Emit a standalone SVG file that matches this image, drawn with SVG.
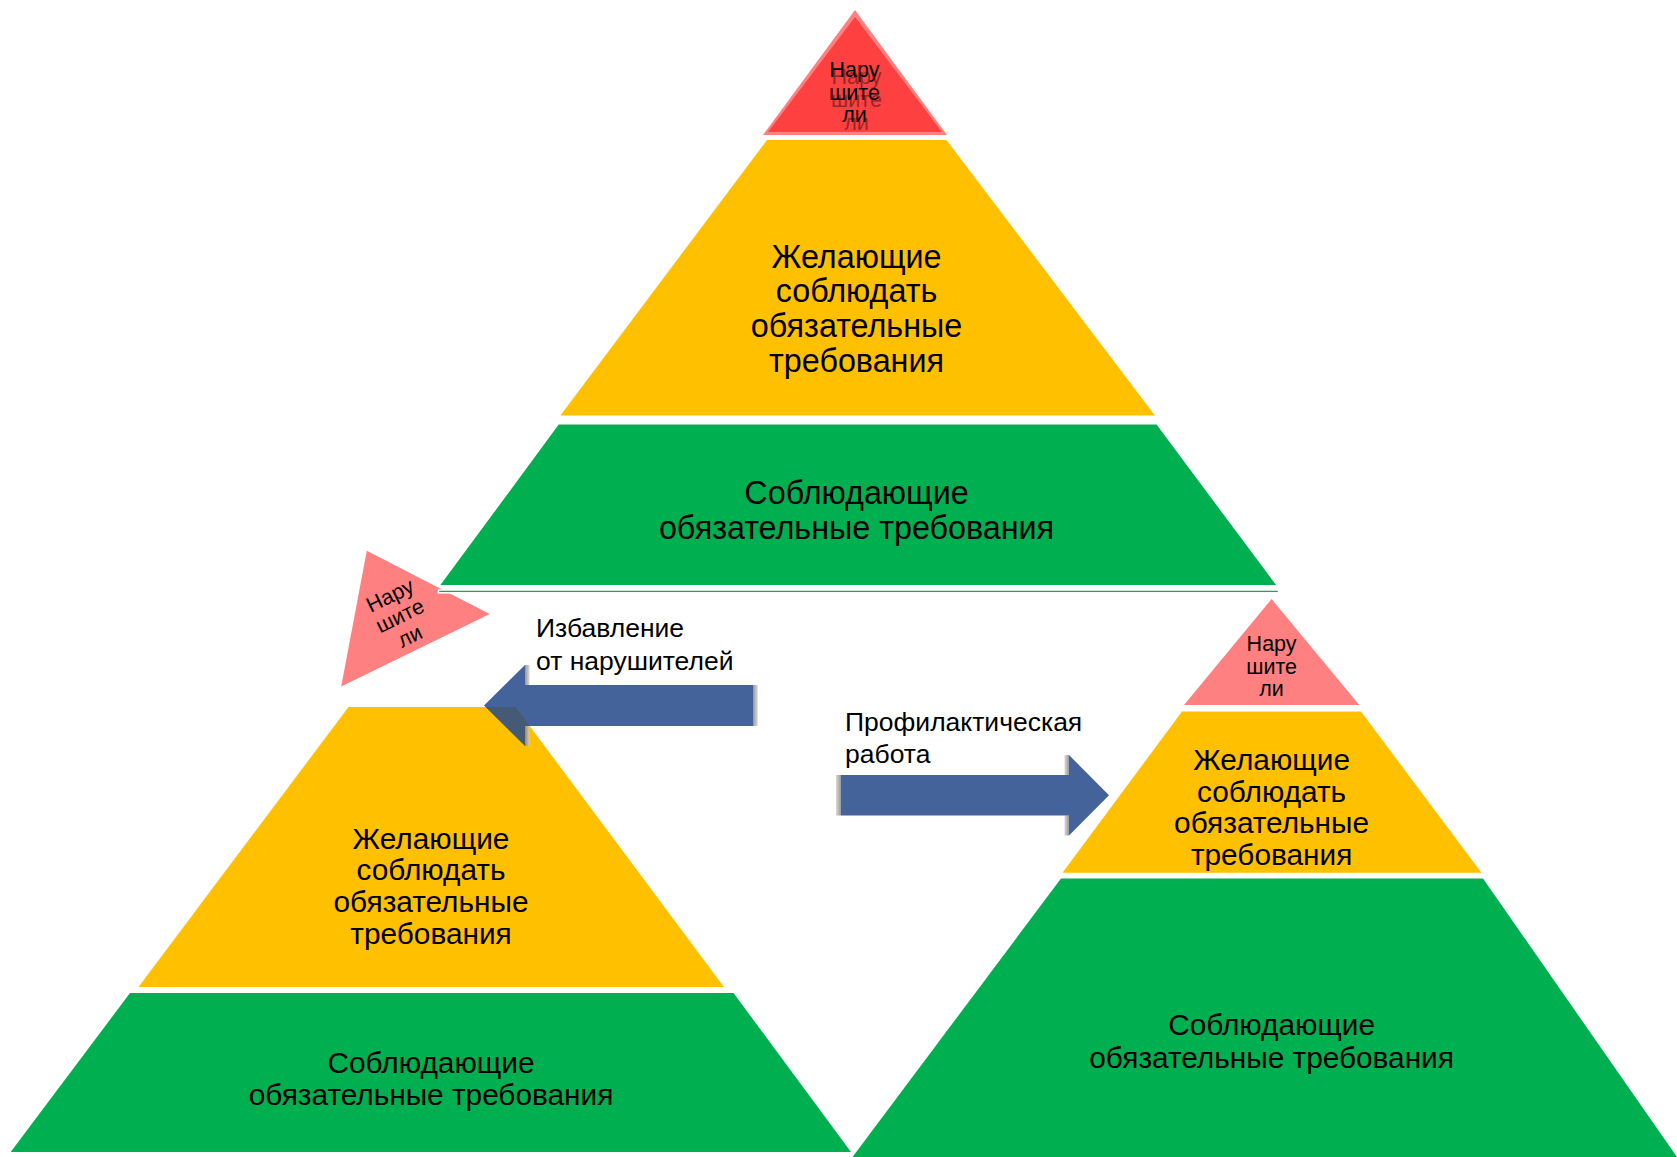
<svg xmlns="http://www.w3.org/2000/svg" width="1677" height="1157" viewBox="0 0 1677 1157">
<defs>
<style>
text{font-family:"Liberation Sans",Arial,sans-serif;fill:#000;text-anchor:middle}
.big{font-size:32.3px}
.mid{font-size:29.8px}
.sm{font-size:21.5px}
.lbl{font-size:26.5px;text-anchor:start}
.yel{fill:#FFC000}
.grn{fill:#00B050}
.pnk{fill:#FF8080}
.red{fill:#FF4040}
.arr{fill:#23488A;opacity:0.85}
.bev{opacity:0.8}
.ghost{fill:#000;opacity:0.4}
</style>
<linearGradient id="bevR" x1="0" x2="1" y1="0" y2="0"><stop offset="0" stop-color="#7f7f7f"/><stop offset="1" stop-color="#d0d0d0"/></linearGradient>
<linearGradient id="bevL" x1="1" x2="0" y1="0" y2="0"><stop offset="0" stop-color="#7f7f7f"/><stop offset="1" stop-color="#d0d0d0"/></linearGradient>
</defs>
<rect width="1677" height="1157" fill="#fff"/>

<g id="left-violators">
<polygon class="pnk" points="366.8,550.8 489.8,613.9 341.2,686.6"/>
<g transform="rotate(-26.1 400 616)">
<text class="sm" x="400" y="600.5">Нару</text>
<text class="sm" x="400" y="623">шите</text>
<text class="sm" x="400" y="645.5">ли</text>
</g>
</g>

<g id="top-pyramid">
<g id="top-violators">
<polygon class="pnk" points="855,10 947,135 763,135"/>
<polygon class="red" points="855,17 942,132 768,132"/>
<text class="sm ghost" x="856.5" y="83.5">Нару</text>
<text class="sm ghost" x="856.5" y="107">шите</text>
<text class="sm ghost" x="856.5" y="129.5">ли</text>
<text class="sm" x="854.5" y="77.3">Нару</text>
<text class="sm" x="854.5" y="100">шите</text>
<text class="sm" x="854.5" y="121.7">ли</text>
</g>
<g id="top-willing">
<polygon class="yel" points="767,140 946.5,140 1155,415.5 560.4,415.5"/>
<text class="big" x="856.5" y="267.9">Желающие</text>
<text class="big" x="856.5" y="302.4">соблюдать</text>
<text class="big" x="856.5" y="337.3">обязательные</text>
<text class="big" x="856.5" y="372.3">требования</text>
</g>
<g id="top-compliant">
<polygon class="grn" stroke="#fff" stroke-width="2" points="558.3,423.5 1157,423.5 1278,586 438.5,586"/>
<text class="big" x="856.5" y="504">Соблюдающие</text>
<text class="big" x="856.5" y="539.3">обязательные требования</text>
<rect class="grn" stroke="#fff" stroke-width="1.5" x="438.5" y="590" width="840" height="2.8"/>
</g>
</g>

<g id="left-pyramid">
<g id="left-willing">
<polygon class="yel" points="348.5,707 515.6,707 724,987 138.5,987"/>
<text class="mid" x="431" y="848.5">Желающие</text>
<text class="mid" x="431" y="880.3">соблюдать</text>
<text class="mid" x="431" y="911.6">обязательные</text>
<text class="mid" x="431" y="943.5">требования</text>
</g>
<g id="left-compliant">
<polygon class="grn" points="130,993 733.5,993 851,1152 10.7,1152"/>
<text class="mid" x="431" y="1073">Соблюдающие</text>
<text class="mid" x="431" y="1105">обязательные требования</text>
</g>
</g>

<g id="right-pyramid">
<g id="right-violators">
<polygon class="pnk" points="1271.6,599 1359.3,705 1184,705"/>
<text class="sm" x="1271.6" y="651">Нару</text>
<text class="sm" x="1271.6" y="673.5">шите</text>
<text class="sm" x="1271.6" y="696">ли</text>
</g>
<g id="right-willing">
<polygon class="yel" points="1182,711.5 1361,711.5 1481.5,872.7 1062.5,872.7"/>
<text class="mid" x="1271.6" y="770.4">Желающие</text>
<text class="mid" x="1271.6" y="801.6">соблюдать</text>
<text class="mid" x="1271.6" y="833.2">обязательные</text>
<text class="mid" x="1271.6" y="865">требования</text>
</g>
<g id="right-compliant">
<polygon class="grn" points="1061,878.5 1483,878.5 1677,1157 852.5,1157"/>
<text class="mid" x="1271.6" y="1035.3">Соблюдающие</text>
<text class="mid" x="1271.6" y="1068.3">обязательные требования</text>
</g>
</g>

<g id="connectors">
<g id="arrow-removal">
<rect class="bev" fill="url(#bevR)" x="753" y="685" width="4.7" height="41"/>
<rect class="bev" fill="url(#bevR)" x="525" y="665" width="4.5" height="20"/>
<rect class="bev" fill="url(#bevR)" x="525" y="726" width="4.5" height="20"/>
<polygon class="arr" points="484,705.5 525,665 525,685 753,685 753,726 525,726 525,746"/>
</g>
<g id="arrow-prevention">
<rect class="bev" fill="url(#bevL)" x="836" y="775" width="5" height="40.5"/>
<rect class="bev" fill="url(#bevL)" x="1064.5" y="755" width="4.5" height="20"/>
<rect class="bev" fill="url(#bevL)" x="1064.5" y="815.5" width="4.5" height="20"/>
<polygon class="arr" points="841,775 1069,775 1069,755 1109,795.2 1069,835.5 1069,815.5 841,815.5"/>
</g>
</g>

<g id="labels">
<text class="lbl" x="536" y="637.3">Избавление</text>
<text class="lbl" x="536" y="670">от нарушителей</text>
<text class="lbl" x="845" y="730.5">Профилактическая</text>
<text class="lbl" x="845" y="763">работа</text>
</g>
</svg>
